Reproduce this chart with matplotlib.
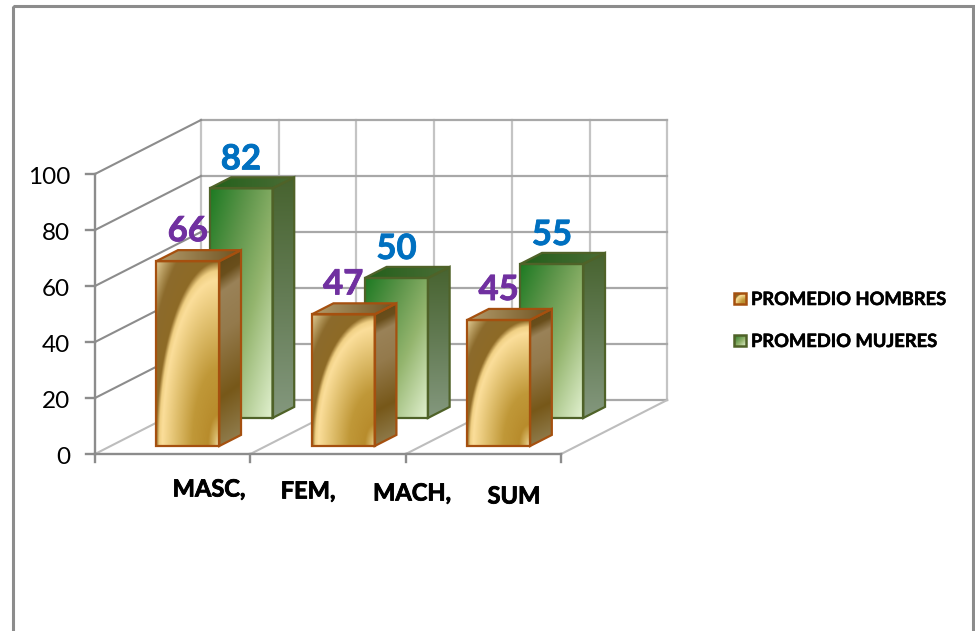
import numpy as np
import matplotlib.pyplot as plt
import matplotlib.patheffects as pe
from matplotlib.colors import to_rgb
from matplotlib.patches import Polygon, Rectangle

plt.rcParams['font.family'] = ['Lato', 'DejaVu Sans']

# datos
groups = [0, 1, 2]
hombres = [66, 47, 45]
mujeres = [82, 50, 55]
cat_labels = ["MASC,", "FEM,", "MACH,", "SUM"]
y_ticks = [0, 20, 40, 60, 80, 100]
series_names = ["PROMEDIO HOMBRES", "PROMEDIO MUJERES"]

# escala de la caja 3D en pixeles
X0, Y0 = 95, 454
CAT_W = 155.4
DEPTH_X, DEPTH_Y = 106, 54
VAL_H = 2.8

z_now = 3


def next_z():
    global z_now
    z_now += 1
    return z_now


def proj(x, d, v):
    # x en categorias, d profundidad 0-1, v valor
    return (X0 + x * CAT_W + d * DEPTH_X, Y0 - d * DEPTH_Y - v * VAL_H)


def ramp(t, stops):
    pos = [s[0] for s in stops]
    cols = np.array([to_rgb(s[1]) for s in stops])
    return np.dstack([np.interp(t, pos, cols[:, i]) for i in range(3)])


def paint(ax, pts, img):
    xs = [p[0] for p in pts]
    ys = [p[1] for p in pts]
    im = ax.imshow(img, extent=(min(xs), max(xs), max(ys), min(ys)), aspect='auto',
                   interpolation='bilinear', zorder=next_z())
    im.set_clip_path(Polygon(pts, closed=True, transform=ax.transData))


def grid_uv(n=160):
    return np.meshgrid(np.linspace(0, 1, n), np.linspace(0, 1, n))


def orange_front():
    u, v = grid_uv()
    # v=0 arriba
    r = np.hypot(1 - u, 1 - v)
    return ramp(r, [(0, '#EEDCAC'), (0.07, '#D6B666'), (0.17, '#B88C2C'), (0.42, '#C09838'),
                    (0.68, '#DFBE6C'), (0.9, '#FBDE9A'), (0.95, '#F0D084'),
                    (1.0, '#8E6A26'), (1.2, '#8C6B2C'), (1.41, '#E0CA92')])


def green_front():
    u, v = grid_uv()
    t = (u + v) / 2
    return ramp(t, [(0, '#1C7A22'), (0.3, '#5C9449'), (0.6, '#94B56E'), (1, '#E2F1D0')])


def orange_side():
    u, v = grid_uv()
    t = v - 0.08 * (1 - u)
    return ramp(t, [(-0.08, '#5E4515'), (0.06, '#6A4F1C'), (0.14, '#9A8258'), (0.35, '#947A4C'),
                    (0.68, '#775819'), (1, '#958458')])


def green_side():
    u, v = grid_uv()
    return ramp(v, [(0, '#47632F'), (0.5, '#647C55'), (1, '#84987E')])


def orange_top():
    u, v = grid_uv()
    return ramp(u, [(0, '#B49C6C'), (1, '#6E5220')])


def green_top():
    u, v = grid_uv()
    return ramp(u, [(0, '#22601A'), (1, '#4C6C36')])


def draw_bar(ax, x, d, val, w, dd, front, side, top, edge):
    a = proj(x, d, 0)
    b = proj(x + w, d, 0)
    c = proj(x + w, d, val)
    e = proj(x, d, val)
    b2 = proj(x + w, d + dd, 0)
    c2 = proj(x + w, d + dd, val)
    e2 = proj(x, d + dd, val)
    paint(ax, [a, b, c, e], front())
    paint(ax, [b, b2, c2, c], side())
    paint(ax, [e, c, c2, e2], top())
    for pts in ([a, b, c, e], [b, b2, c2, c], [e, c, c2, e2]):
        ax.add_patch(Polygon(pts, closed=True, fill=False, ec=edge, lw=1.6, zorder=next_z()))


def bold_text(ax, x, y, s, size, color, ha='center', stroke=0.6):
    ax.text(x, y, s, ha=ha, va='center_baseline', fontsize=size, fontweight='bold', color=color,
            zorder=500, path_effects=[pe.withStroke(linewidth=stroke, foreground=color)])


fig = plt.figure(figsize=(9.75, 6.31), dpi=100)
ax = fig.add_axes([0, 0, 1, 1])

# marco exterior
ax.add_patch(Rectangle((12.5, 6), 960.5, 640, fill=False, ec='#8C8C8C', lw=2.2, zorder=1))

# pared del fondo
for k in np.arange(0, 3.5, 0.5):
    p0, p1 = proj(k, 1, 0), proj(k, 1, 100)
    ax.plot([p0[0], p1[0]], [p0[1], p1[1]], color='#C4C4C4', lw=1.6, zorder=1)
for v in y_ticks:
    p0, p1 = proj(0, 1, v), proj(3, 1, v)
    ax.plot([p0[0], p1[0]], [p0[1], p1[1]], color='#A8A8A8', lw=1.6, zorder=1)

# pared izquierda
for v in y_ticks[1:]:
    p0, p1 = proj(0, 0, v), proj(0, 1, v)
    ax.plot([p0[0], p1[0]], [p0[1], p1[1]], color='#8C8C8C', lw=1.5, zorder=1)

# suelo
for k in [0, 1, 2, 3]:
    p0, p1 = proj(k, 0, 0), proj(k, 1, 0)
    ax.plot([p0[0], p1[0]], [p0[1], p1[1]], color='#BDBDBD', lw=1.5, zorder=1)

# ejes
p0, p1 = proj(0, 0, 0), proj(3, 0, 0)
ax.plot([p0[0], p1[0]], [p0[1], p1[1]], color='#8C8C8C', lw=1.7, zorder=2)
p0, p1 = proj(0, 0, 0), proj(0, 0, 100)
ax.plot([p0[0], p1[0]], [p0[1], p1[1]], color='#8C8C8C', lw=1.7, zorder=2)
for k in [0, 1, 2, 3]:
    p = proj(k, 0, 0)
    ax.plot([p[0], p[0]], [p[1], p[1] + 8], color='#8C8C8C', lw=1.7, zorder=2)
for v in y_ticks:
    p = proj(0, 0, v)
    ax.plot([p[0] - 9, p[0]], [p[1], p[1]], color='#8C8C8C', lw=1.7, zorder=2)
    ax.text(p[0] - 25, p[1] + 1, str(v), ha='right', va='center_baseline', fontsize=17.5, color='black', zorder=500)

# barras
BAR_W = 63 / CAT_W
DD = 0.205
for g, h, m in zip(groups, hombres, mujeres):
    x_m = g + 43.8 / CAT_W
    x_h = g + 45.6 / CAT_W
    draw_bar(ax, x_m, 0.667, m, BAR_W, DD, green_front, green_side, green_top, '#4F6228')
    draw_bar(ax, x_h, 0.148, h, BAR_W, DD, orange_front, orange_side, orange_top, '#A5500F')
    p = proj(x_m + BAR_W / 2, 0.667, m)
    bold_text(ax, p[0], p[1] - 32, str(m), 25, '#0070C0')
    p = proj(x_h + BAR_W / 2, 0.148, h)
    bold_text(ax, p[0], p[1] - 33, str(h), 25, '#7030A0')

# etiquetas de categoria (colocadas a mano en el original)
label_x = [209, 308, 412, 514]
label_y = [487, 489, 491, 494]
for t, lx, ly in zip(cat_labels, label_x, label_y):
    bold_text(ax, lx, ly, t, 17, 'black')

# leyenda
for name, ly, fr, edge in zip(series_names, [298, 340], [orange_front, green_front], ['#A5500F', '#4F6228']):
    sw = [(734, ly - 5), (746, ly - 5), (746, ly + 6), (734, ly + 6)]
    paint(ax, sw, fr())
    ax.add_patch(Polygon(sw, closed=True, fill=False, ec=edge, lw=1.8, zorder=next_z()))
    bold_text(ax, 751, ly, name, 13.2, 'black', ha='left', stroke=0.4)

ax.set_xlim(0, 975)
ax.set_ylim(631, 0)
ax.axis('off')

plt.savefig('out.png', dpi=100)
